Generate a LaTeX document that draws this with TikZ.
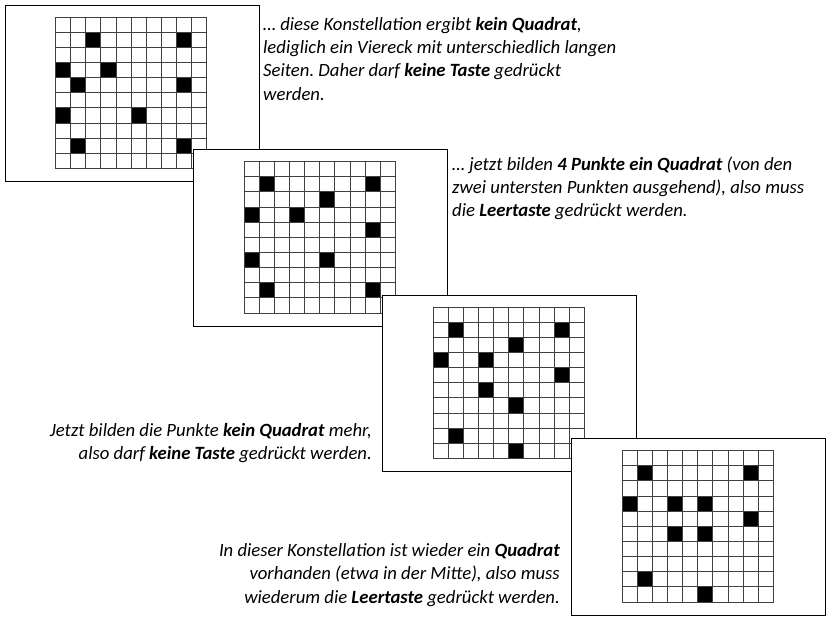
\documentclass[tikz,border=0pt]{standalone}
\usepackage{fontspec}
\setmainfont{Carlito}
\frenchspacing

\tikzset{
  panel/.style = {rectangle, draw, line width=1pt, fill=white,
    minimum width=254pt, minimum height=176.5pt, inner sep=0pt,
    anchor=north west},
  gridline/.style = {draw=black!75, line width=1pt},
  comment/.style = {inner sep=0pt,
    font=\fontsize{18.7}{23.2}\selectfont\itshape}
}

% one panel: name, x, y, black cells (column/row)
\newcommand{\constellation}[4]{%
  \node[panel] (#1) at (#2,#3) {};
  \begin{scope}[shift={(#2+50.7,#3+12.3)}]
    \foreach \col/\row in {#4}
      \fill (\col*15.15,\row*15.15) rectangle ++(15.15,15.15);
    \foreach \k in {0,...,10} {
      \draw[gridline] (\k*15.15,0) -- (\k*15.15,151.5);
      \draw[gridline] (0,\k*15.15) -- (151.5,\k*15.15);
    }
  \end{scope}}

\begin{document}
\begin{tikzpicture}[x=1pt, y=-1pt]
  \useasboundingbox (0,0) rectangle (840,635);

  \constellation{p1}{4.7}{4.7}{2/1,8/1,0/3,3/3,1/4,8/4,0/6,5/6,1/8,8/8}
  \constellation{p2}{193.3}{149.3}{1/1,8/1,5/2,0/3,3/3,8/4,0/6,5/6,1/8,8/8}
  \constellation{p3}{382.3}{294.7}{1/1,8/1,5/2,0/3,3/3,8/4,3/5,5/6,1/8,5/9}
  \constellation{p4}{571.3}{438.3}{1/1,8/1,0/3,3/3,5/3,8/4,3/5,5/5,1/8,5/9}

  % base anchor = baseline of the last line
  \node[comment, anchor=base west, align=left] (t1) at (263,100)
    {… diese Konstellation ergibt \textbf{kein Quadrat},\\
     lediglich ein Viereck mit unterschiedlich langen\\
     Seiten. Daher darf \textbf{keine Taste} gedrückt\\
     werden.};
  \node[comment, anchor=base west, align=left] (t2) at (452,216.7)
    {… jetzt bilden \textbf{4 Punkte ein Quadrat} (von den\\
     zwei untersten Punkten ausgehend), also muss\\
     die \textbf{Leertaste} gedrückt werden.};
  \node[comment, anchor=base east, align=right] (t3) at (372,459.3)
    {Jetzt bilden die Punkte \textbf{kein Quadrat} mehr,\\
     also darf \textbf{keine Taste} gedrückt werden.};
  \node[comment, anchor=base east, align=right] (t4) at (560,603)
    {In dieser Konstellation ist wieder ein \textbf{Quadrat}\\
     vorhanden (etwa in der Mitte), also muss\\
     wiederum die \textbf{Leertaste} gedrückt werden.};
\end{tikzpicture}
\end{document}
